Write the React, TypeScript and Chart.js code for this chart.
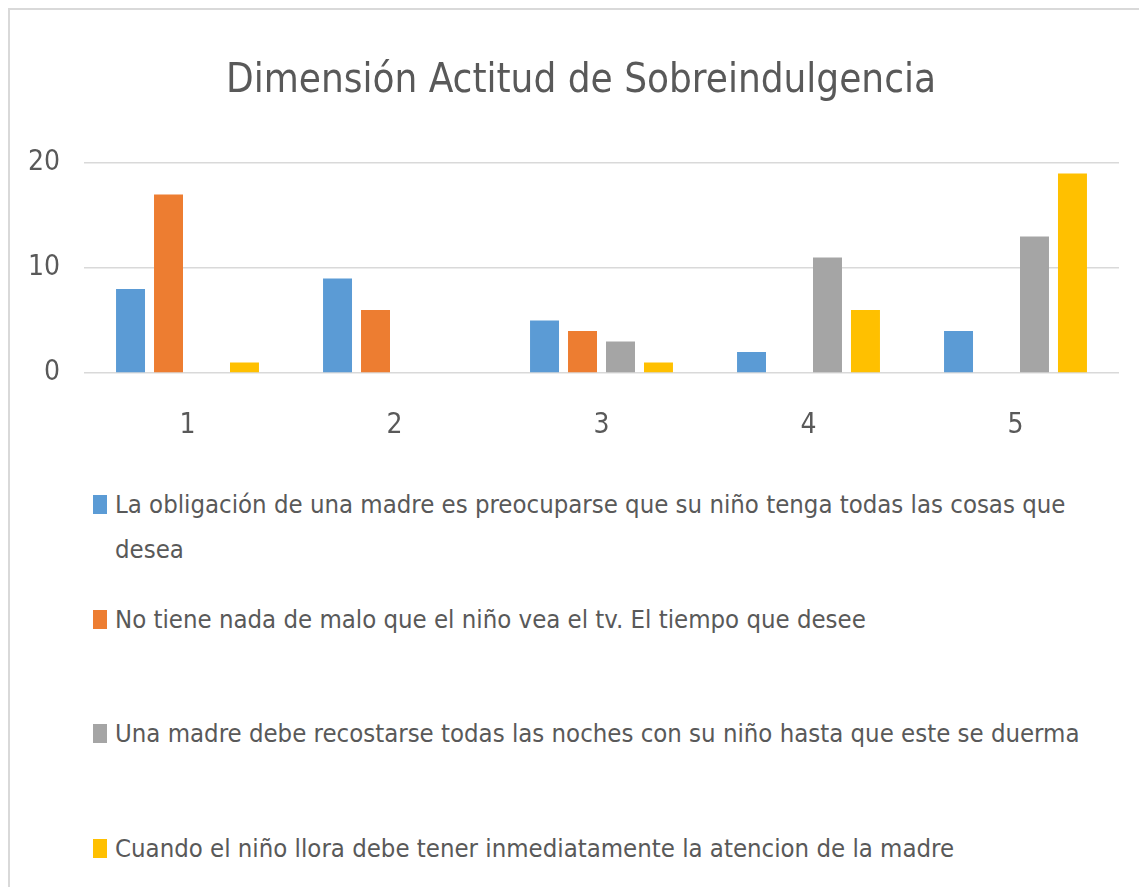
import React, { useEffect, useRef } from "react";
import { Chart, registerables } from "chart.js";

Chart.register(...registerables);

const titleText = "Dimensión Actitud de Sobreindulgencia";
const categories = ["1", "2", "3", "4", "5"];
const seriesLabels = [
  "La obligación de una madre es preocuparse que su niño tenga todas las cosas que desea",
  "No tiene nada de malo que el niño vea el tv. El tiempo que desee",
  "Una madre debe recostarse todas las noches con su niño hasta que este se duerma",
  "Cuando el niño llora debe tener inmediatamente la atencion de la madre",
];
const serieObligacion = [8, 9, 5, 2, 4];
const serieTv = [17, 6, 4, 0, 0];
const serieRecostarse = [0, 0, 3, 11, 13];
const serieLlora = [1, 0, 1, 6, 19];
const seriesColors = ["#5B9BD5", "#ED7D31", "#A5A5A5", "#FFC000"];
const yTicks = [0, 10, 20];

const FONT = '"Liberation Sans Narrow", "DejaVu Sans Condensed", "Noto Sans", sans-serif';
const TEXT = "#595959";

export default function App() {
  const ref = useRef<HTMLCanvasElement | null>(null);

  useEffect(() => {
    if (!ref.current) return;
    const values = [serieObligacion, serieTv, serieRecostarse, serieLlora];
    const chart = new Chart(ref.current, {
      type: "bar",
      data: {
        labels: categories,
        datasets: values.map((v, i) => ({
          label: seriesLabels[i],
          data: v,
          backgroundColor: seriesColors[i],
          borderWidth: 0,
          categoryPercentage: 0.734,
          barPercentage: 0.763,
          yAxisID: "y",
        })),
      },
      options: {
        animation: false,
        responsive: false,
        layout: { padding: { left: 0, right: 0, top: 0, bottom: 0 } },
        plugins: {
          legend: { display: false },
          tooltip: { enabled: false },
          title: {
            display: true,
            text: titleText,
            color: TEXT,
            font: { family: FONT, size: 40, weight: "normal" },
            padding: { top: 48, bottom: 57 },
          },
        },
        scales: {
          x: {
            grid: { display: false },
            border: { display: false },
            ticks: {
              color: TEXT,
              font: { family: FONT, size: 28 },
              padding: 28,
            },
            afterFit: (s: any) => {
              s.height = 70;
            },
          },
          y: {
            min: 0,
            max: 20,
            grid: { color: "#d9d9d9", lineWidth: 1.5, drawTicks: false },
            border: { display: false },
            afterBuildTicks: (s: any) => {
              s.ticks = yTicks.map((v) => ({ value: v }));
            },
            ticks: {
              color: TEXT,
              font: { family: FONT, size: 28 },
              padding: 24,
            },
            afterFit: (s: any) => {
              s.width = 74;
            },
          },
          yRightSpace: {
            position: "right",
            min: 0,
            max: 20,
            grid: { display: false },
            border: { display: false },
            ticks: { display: false },
            afterFit: (s: any) => {
              s.width = 33;
            },
          },
        },
      },
    });
    return () => chart.destroy();
  }, []);

  return (
    <div
      style={{
        position: "relative",
        width: 1131,
        height: 879,
        boxSizing: "border-box",
        borderLeft: "2px solid #d9d9d9",
        borderTop: "2px solid #d9d9d9",
        overflow: "hidden",
        background: "#fff",
      }}
    >
      <canvas ref={ref} width={1142} height={433} style={{ display: "block" }} />
      {seriesLabels.map((label, i) => (
        <div
          key={i}
          style={{
            position: "absolute",
            left: 83,
            top: 472 + i * 114.7,
            width: 1040,
            fontFamily: FONT,
            fontSize: 25.5,
            lineHeight: "45px",
            color: TEXT,
          }}
        >
          <span
            style={{
              position: "absolute",
              left: 0,
              top: 13,
              width: 14,
              height: 19,
              background: seriesColors[i],
            }}
          />
          <div style={{ marginLeft: 22, width: 990 }}>{label}</div>
        </div>
      ))}
    </div>
  );
}
